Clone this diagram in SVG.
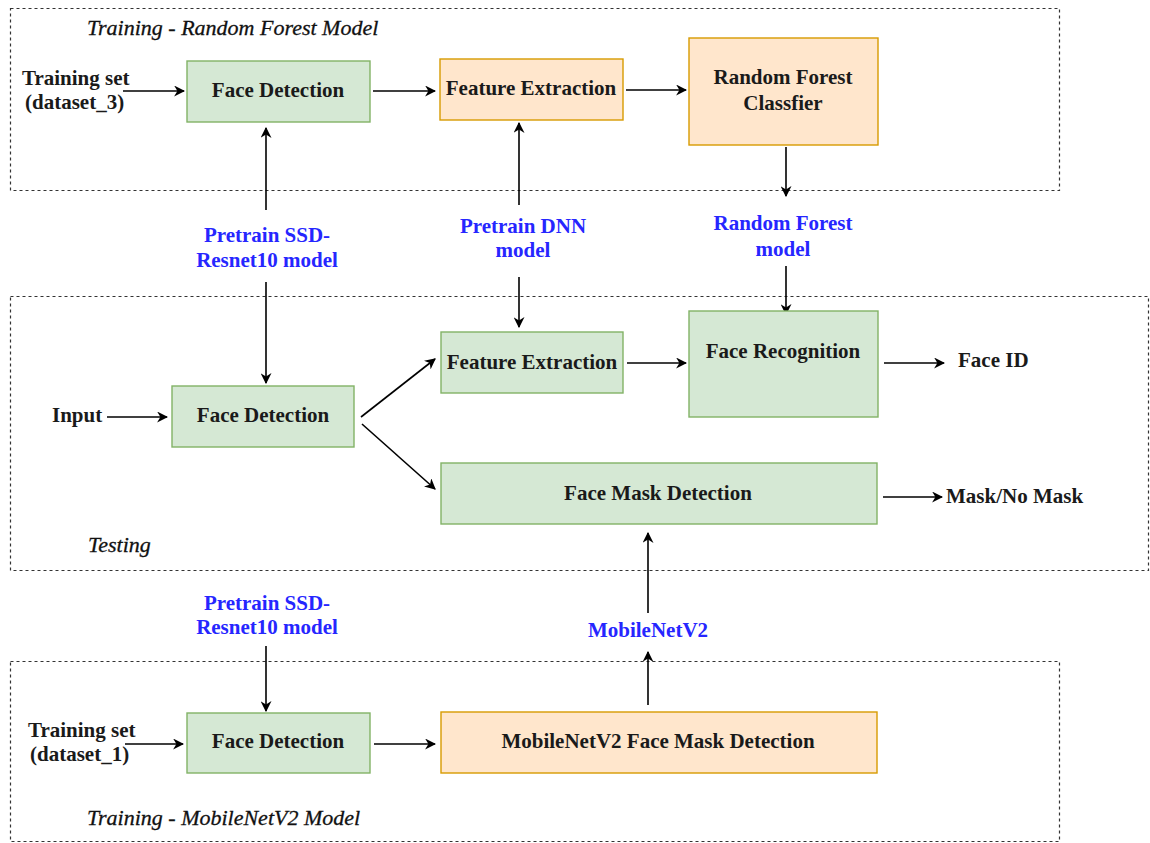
<svg xmlns="http://www.w3.org/2000/svg" width="1150" height="843" viewBox="0 0 1150 843">
<style>
.bg{fill:#ffffff}
.cont{fill:none;stroke:#333333;stroke-width:1.2;stroke-dasharray:3,3}
.g{fill:#d5e8d4;stroke:#82b366;stroke-width:1.4}
.o{fill:#ffe6cc;stroke:#d79b00;stroke-width:1.4}
.t{font-family:"Liberation Serif","Times New Roman",serif;font-size:21px;font-weight:bold;fill:#1a1a1a;text-anchor:middle}
.l{font-family:"Liberation Serif","Times New Roman",serif;font-size:21px;font-weight:bold;fill:#1a1a1a}
.b{font-family:"Liberation Serif","Times New Roman",serif;font-size:21px;font-weight:bold;fill:#2626ff;text-anchor:middle}
.i{font-family:"Liberation Serif","Times New Roman",serif;font-size:22px;font-style:italic;fill:#111111;stroke:#111111;stroke-width:0.3}
.c{fill:none;stroke:#000000;stroke-width:1.6}
</style>
<defs>
<marker id="arr" viewBox="0 0 10 10" refX="9" refY="5" markerWidth="11" markerHeight="11" markerUnits="userSpaceOnUse" orient="auto">
<path d="M0,0 L10,5 L0,10 L3,5 z" fill="#000000"/>
</marker>
</defs>
<rect class="bg" x="0" y="0" width="1150" height="843"/>

<g id="containers">
<rect class="cont" x="10.5" y="8.5" width="1049" height="182"/>
<rect class="cont" x="10.5" y="296.5" width="1138" height="274"/>
<rect class="cont" x="10.5" y="661.5" width="1049" height="180"/>
<text class="i" x="87" y="35">Training - Random Forest Model</text>
<text class="i" x="88" y="552">Testing</text>
<text class="i" x="87" y="825">Training - MobileNetV2 Model</text>
</g>

<g id="connectors">
<line class="c" x1="123" y1="91" x2="184" y2="91" marker-end="url(#arr)"/>
<line class="c" x1="373" y1="91" x2="435" y2="91" marker-end="url(#arr)"/>
<line class="c" x1="626" y1="90" x2="686" y2="90" marker-end="url(#arr)"/>
<line class="c" x1="786" y1="147" x2="786" y2="196" marker-end="url(#arr)"/>
<line class="c" x1="786" y1="266" x2="786" y2="314" marker-end="url(#arr)"/>
<line class="c" x1="266" y1="210" x2="266" y2="128" marker-end="url(#arr)"/>
<line class="c" x1="266" y1="282" x2="266" y2="383" marker-end="url(#arr)"/>
<line class="c" x1="519" y1="205" x2="519" y2="123" marker-end="url(#arr)"/>
<line class="c" x1="519" y1="277" x2="519" y2="327" marker-end="url(#arr)"/>
<line class="c" x1="107" y1="417" x2="167" y2="417" marker-end="url(#arr)"/>
<line class="c" x1="361" y1="417" x2="435" y2="359" marker-end="url(#arr)"/>
<line class="c" x1="362" y1="424" x2="435" y2="489" marker-end="url(#arr)"/>
<line class="c" x1="627" y1="363" x2="686" y2="363" marker-end="url(#arr)"/>
<line class="c" x1="884" y1="363" x2="944" y2="363" marker-end="url(#arr)"/>
<line class="c" x1="883" y1="497" x2="942" y2="497" marker-end="url(#arr)"/>
<line class="c" x1="266" y1="646" x2="266" y2="711" marker-end="url(#arr)"/>
<line class="c" x1="125" y1="744" x2="183" y2="744" marker-end="url(#arr)"/>
<line class="c" x1="374" y1="744" x2="435" y2="744" marker-end="url(#arr)"/>
<line class="c" x1="648" y1="705" x2="648" y2="652" marker-end="url(#arr)"/>
<line class="c" x1="648" y1="613" x2="648" y2="533" marker-end="url(#arr)"/>
</g>

<g id="labels">
<text class="l" x="22" y="85">Training set</text>
<text class="l" x="25" y="109">(dataset_3)</text>
<text class="l" x="52" y="422">Input</text>
<text class="l" x="958" y="367">Face ID</text>
<text class="l" x="946" y="503">Mask/No Mask</text>
<text class="l" x="28" y="737">Training set</text>
<text class="l" x="30" y="761">(dataset_1)</text>
<text class="b" x="267" y="242">Pretrain SSD-</text>
<text class="b" x="267" y="267">Resnet10 model</text>
<text class="b" x="523" y="233">Pretrain DNN</text>
<text class="b" x="523" y="257">model</text>
<text class="b" x="783" y="230">Random Forest</text>
<text class="b" x="783" y="256">model</text>
<text class="b" x="267" y="610">Pretrain SSD-</text>
<text class="b" x="267" y="634">Resnet10 model</text>
<text class="b" x="648" y="637">MobileNetV2</text>
</g>

<g id="fd-train-rf">
<rect class="g" x="187" y="61" width="183" height="61"/>
<text class="t" x="278" y="97">Face Detection</text>
</g>
<g id="fe-train-rf">
<rect class="o" x="440" y="59" width="183" height="61"/>
<text class="t" x="531" y="95">Feature Extraction</text>
</g>
<g id="rf-classifier">
<rect class="o" x="689" y="38" width="189" height="107"/>
<text class="t" x="783" y="84">Random Forest</text>
<text class="t" x="783" y="110">Classfier</text>
</g>

<g id="fd-test">
<rect class="g" x="172" y="386" width="182" height="61"/>
<text class="t" x="263" y="422">Face Detection</text>
</g>
<g id="fe-test">
<rect class="g" x="441" y="332" width="182" height="61"/>
<text class="t" x="532" y="369">Feature Extraction</text>
</g>
<g id="face-recognition">
<rect class="g" x="689" y="311" width="189" height="106"/>
<text class="t" x="783" y="358">Face Recognition</text>
</g>
<g id="face-mask-detection">
<rect class="g" x="441" y="463" width="436" height="61"/>
<text class="t" x="658" y="500">Face Mask Detection</text>
</g>

<g id="fd-train-mnv2">
<rect class="g" x="187" y="713" width="183" height="60"/>
<text class="t" x="278" y="748">Face Detection</text>
</g>
<g id="mnv2-fmd">
<rect class="o" x="441" y="712" width="436" height="61"/>
<text class="t" x="658" y="748">MobileNetV2 Face Mask Detection</text>
</g>
</svg>
